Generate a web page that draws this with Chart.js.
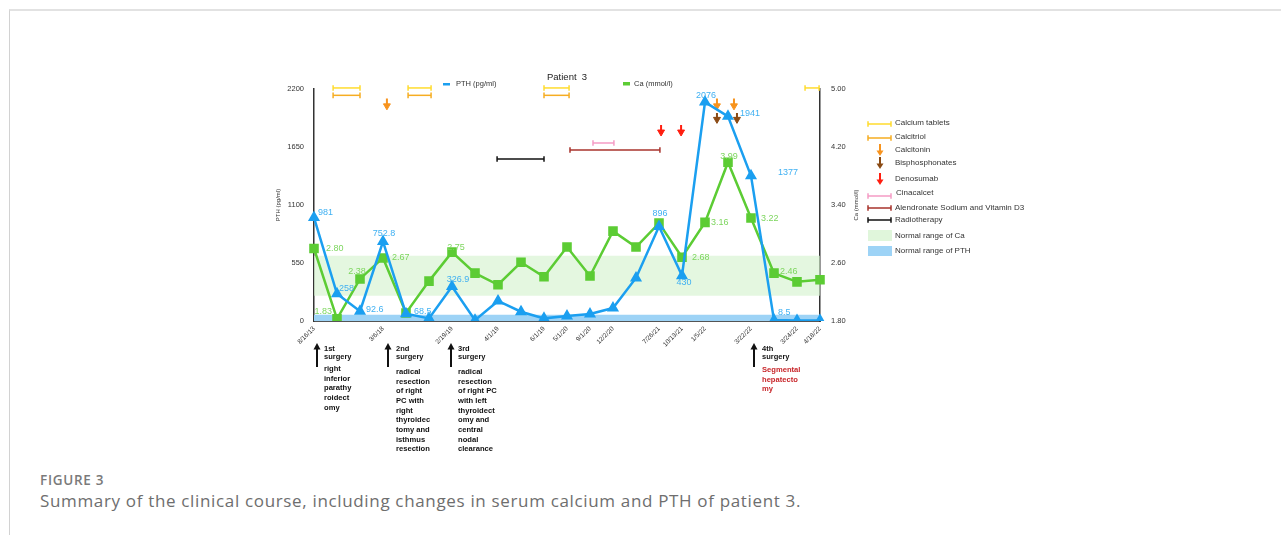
<!DOCTYPE html>
<html><head><meta charset="utf-8">
<script src="https://cdn.jsdelivr.net/npm/chart.js@4/dist/chart.umd.min.js"></script>
<style>
html,body{margin:0;padding:0;background:#fff;width:1281px;height:535px;overflow:hidden;}
#frame{position:absolute;left:9px;top:9px;width:1272px;height:524px;border-top:2px solid #e2e2e2;border-left:1px solid #d2d2d2;}
#fig{position:absolute;left:40px;top:471px;font:600 13.5px 'Open Sans';color:#7a7a7a;letter-spacing:0.7px;}
#cap{position:absolute;left:40px;top:489px;font:400 17px 'Open Sans';color:#6e6e6e;white-space:nowrap;letter-spacing:0.66px;}
canvas{position:absolute;left:0;top:0;}
</style></head><body>
<div id="frame"></div>
<div id="fig">FIGURE 3</div>
<div id="cap">Summary of the clinical course, including changes in serum calcium and PTH of patient 3.</div>
<canvas id="c" width="1281" height="535"></canvas>
<script>
// ---------- data ----------
const categories = ['8/16/13','','','3/6/18','','','2/19/19','','4/1/19','','6/1/19','5/1/20','9/1/20','12/2/20','','7/26/21','10/13/21','1/5/22','','3/22/22','','3/24/22','4/18/22'];
const pthValues = [981, 258, 92.6, 752.8, 68.5, 25, 326.9, 8, 190, 88, 25, 47, 66, 123, 408, 896, 430, 2076, 1941, 1377, 8.5, 5, 5];
const caValues  = [2.80, 1.83, 2.38, 2.67, 1.91, 2.35, 2.75, 2.46, 2.30, 2.61, 2.41, 2.82, 2.42, 3.04, 2.82, 3.15, 2.68, 3.16, 3.99, 3.22, 2.46, 2.34, 2.37];
const pthTicks = [0, 550, 1100, 1650, 2200];
const caTicks  = [1.80, 2.60, 3.40, 4.20, 5.00];
const pthLabelIdx = [0,1,2,3,4,6,15,16,17,18,19,20];
const caLabelIdx  = [0,1,2,3,6,16,17,18,19,20];
const caNormalRange  = [2.15, 2.70];
const pthNormalRange = [0, 60];
// treatments (x in category-index units)
const calciumTabletSpans = [[0.83,2.0],[4.09,5.09],[10.0,11.09],[21.35,21.96]];
const calcitriolSpans    = [[0.83,2.0],[4.09,5.09],[10.0,11.09]];
const cinacalcetSpans    = [[12.13,13.04]];
const alendronateSpans   = [[11.13,15.04]];
const radiotherapySpans  = [[7.96,10.0]];
const calcitoninDoses    = [3.17, 17.52, 18.26];
const bisphosphonateDoses= [17.52, 18.39];
const denosumabDoses     = [15.09, 15.96];
const surgeries = [
  {idx:0,  head:['1st','surgery'], lines:['right','inferior','parathy','roidect','omy']},
  {idx:3,  head:['2nd','surgery'], lines:['radical','resection','of right','PC with','right','thyroidec','tomy and','isthmus','resection']},
  {idx:6,  head:['3rd','surgery'], lines:['radical','resection','of right PC','with left','thyroidect','omy and','central','nodal','clearance']},
  {idx:19, head:['4th','surgery'], lines:['Segmental','hepatecto','my']}
];
const legendItems = ['Calcium tablets','Calcitriol','Calcitonin','Bisphosphonates','Denosumab','Cinacalcet','Alendronate Sodium and Vitamin D3','Radiotherapy','Normal range of Ca','Normal range of PTH'];

// ---------- styles ----------
const C = {
  pth:'#1b9ff0', pthLbl:'#3fb0f2', ca:'#5ccc34', caLbl:'#7dd65e',
  yellow:'#ffdc2e', orange:'#f6ad22', calcitonin:'#f7931e', brown:'#8a4a14', red:'#ff1e10',
  pink:'#f59cc5', darkred:'#a8332c', black:'#111', caBand:'rgba(214,243,207,0.65)', pthBand:'#9dd3f6'
};
const levels = {yellow:2210, orange:2140, radio:1536, alend:1622, cina:1688,
  calcitonin:[2110,2040], brown:[1972,1912], red:[1859,1792]};
const pthLblPos = {0:['left',4,-5],1:['left',2,-5],2:['left',6,-2],3:['center',1,-8],4:['left',8,-2],6:['center',6,-7],15:['center',1,-13],16:['center',2,7],17:['center',1,-7],18:['left',12,-3],19:['left',27,-3],20:['left',4,-8]};
const caLblPos = {0:['left',12,0],1:['right',-5,-7],2:['center',-3,-7],3:['left',9,0],6:['center',4,-5],16:['left',10,0],17:['left',6,0],18:['center',1,-6],19:['left',10,0],20:['left',6,-2]};
const surgPos = {0:[3,10,369],3:[5,13,372],6:[-1,6,372],19:[3,11,370]};

function spanSets(spans, level, color){
  return spans.map(([a,b]) => ({type:'line', xAxisID:'xt', yAxisID:'y', data:[{x:a,y:level},{x:b,y:level}],
    borderColor:color, borderWidth:1.5, pointStyle:'line', pointRotation:90, pointRadius:2.8,
    pointBorderColor:color, pointBorderWidth:1.5, clip:false, order:5}));
}
function arrowSets(xs, lv, color){
  return xs.map(x => ({type:'line', xAxisID:'xt', yAxisID:'y', data:[{x:x,y:lv[0]},{x:x,y:lv[1]}],
    borderColor:color, borderWidth:2, pointStyle:'triangle', pointRotation:180, pointRadius:[0,4],
    pointBackgroundColor:color, pointBorderColor:color, pointBorderWidth:1, clip:false, order:5}));
}

const datasets = [
  {type:'line', label:'PTH (pg/ml)', data:pthValues, xAxisID:'x', yAxisID:'y', borderColor:C.pth, backgroundColor:C.pth,
   borderWidth:2.5, pointStyle:'triangle', pointRadius:4.5, pointBackgroundColor:C.pth, pointBorderColor:C.pth, tension:0, order:1},
  {type:'line', label:'Ca (mmol/l)', data:caValues, xAxisID:'x', yAxisID:'y1', borderColor:C.ca, backgroundColor:C.ca,
   borderWidth:2.5, pointStyle:'rect', pointRadius:5, pointBackgroundColor:C.ca, pointBorderColor:C.ca, tension:0, order:2},
  ...spanSets(calciumTabletSpans, levels.yellow, C.yellow),
  ...spanSets(calcitriolSpans, levels.orange, C.orange),
  ...spanSets(cinacalcetSpans, levels.cina, C.pink),
  ...spanSets(alendronateSpans, levels.alend, C.darkred),
  ...spanSets(radiotherapySpans, levels.radio, C.black),
  ...arrowSets(calcitoninDoses, levels.calcitonin, C.calcitonin),
  ...arrowSets(bisphosphonateDoses, levels.brown, C.brown),
  ...arrowSets(denosumabDoses, levels.red, C.red),
];
datasets.push(
  {type:'line', xAxisID:'xt', yAxisID:'y1', data:[{x:0,y:caNormalRange[0]},{x:categories.length-1,y:caNormalRange[0]}], borderColor:'transparent', pointRadius:0, fill:false, order:20},
  {type:'line', xAxisID:'xt', yAxisID:'y1', data:[{x:0,y:caNormalRange[1]},{x:categories.length-1,y:caNormalRange[1]}], borderColor:'transparent', pointRadius:0, fill:'-1', backgroundColor:C.caBand, order:20},
  {type:'line', xAxisID:'xt', yAxisID:'y', data:[{x:0,y:pthNormalRange[1]},{x:categories.length-1,y:pthNormalRange[1]}], borderColor:'transparent', pointRadius:0, fill:{value:pthNormalRange[0]}, backgroundColor:C.pthBand, order:21}
);

const FONT = "'Liberation Sans', Arial, sans-serif";
function txt(ctx, s, x, y, size, color, align, weight){
  ctx.font = (weight||'normal') + ' ' + size + 'px ' + FONT;
  ctx.fillStyle = color; ctx.textAlign = align||'left'; ctx.textBaseline = 'middle';
  ctx.fillText(s, x, y);
}
function hbar(ctx, x1, x2, y, color){
  ctx.strokeStyle = color; ctx.lineWidth = 1.5;
  ctx.beginPath(); ctx.moveTo(x1,y); ctx.lineTo(x2,y);
  ctx.moveTo(x1,y-2.8); ctx.lineTo(x1,y+2.8); ctx.moveTo(x2,y-2.8); ctx.lineTo(x2,y+2.8); ctx.stroke();
}
function arrowDown(ctx, x, y1, y2, color){
  ctx.strokeStyle = color; ctx.fillStyle = color; ctx.lineWidth = 2;
  ctx.beginPath(); ctx.moveTo(x,y1); ctx.lineTo(x,y2-4); ctx.stroke();
  ctx.beginPath(); ctx.moveTo(x-3.5,y2-5.5); ctx.lineTo(x+3.5,y2-5.5); ctx.lineTo(x,y2); ctx.closePath(); ctx.fill();
}
function arrowUp(ctx, x, yTip, yBot, color){
  ctx.strokeStyle = color; ctx.fillStyle = color; ctx.lineWidth = 2;
  ctx.beginPath(); ctx.moveTo(x,yBot); ctx.lineTo(x,yTip+5); ctx.stroke();
  ctx.beginPath(); ctx.moveTo(x-3.5,yTip+6.5); ctx.lineTo(x+3.5,yTip+6.5); ctx.lineTo(x,yTip); ctx.closePath(); ctx.fill();
}

const deco = {
  id:'deco',
  afterDraw(chart){
    const ctx = chart.ctx, xs = chart.scales.x, ys = chart.scales.y, y1 = chart.scales.y1, ca = chart.chartArea;
    ctx.save();
    // data labels
    pthLabelIdx.forEach(i => { const p = pthLblPos[i];
      txt(ctx, String(pthValues[i]), xs.getPixelForValue(i)+p[1], ys.getPixelForValue(pthValues[i])+p[2], 9, C.pthLbl, p[0]); });
    caLabelIdx.forEach(i => { const p = caLblPos[i];
      txt(ctx, caValues[i].toFixed(2), xs.getPixelForValue(i)+p[1], y1.getPixelForValue(caValues[i])+p[2], 9, C.caLbl, p[0]); });
    // axis titles
    const my = (ca.top+ca.bottom)/2;
    ctx.save(); ctx.translate(278, my); ctx.rotate(-Math.PI/2); txt(ctx,'PTH (pg/ml)',0,0,6,'#333','center'); ctx.restore();
    ctx.save(); ctx.translate(856, my); ctx.rotate(-Math.PI/2); txt(ctx,'Ca (mmol/l)',0,0,6,'#333','center'); ctx.restore();
    // title + top legend
    txt(ctx, 'Patient  3', 547, 77, 9.5, '#222', 'left');
    ctx.fillStyle = C.pth; ctx.fillRect(443, 83, 7, 2.5);
    txt(ctx, 'PTH (pg/ml)', 456, 84, 7.5, '#333', 'left');
    ctx.fillStyle = C.ca; ctx.fillRect(623, 82, 7, 3.5);
    txt(ctx, 'Ca (mmol/l)', 634, 84, 7.5, '#333', 'left');
    // right legend
    const lx = 868, tx = 895;
    hbar(ctx, lx, 891, 124, C.yellow); txt(ctx, legendItems[0], tx, 123, 8, '#333');
    hbar(ctx, lx, 891, 138, C.orange); txt(ctx, legendItems[1], tx, 137, 8, '#333');
    arrowDown(ctx, 880, 144, 156, C.calcitonin); txt(ctx, legendItems[2], tx, 150, 8, '#333');
    arrowDown(ctx, 880, 157, 169, C.brown); txt(ctx, legendItems[3], tx, 163, 8, '#333');
    arrowDown(ctx, 880, 173, 185, C.red); txt(ctx, legendItems[4], tx, 179, 8, '#333');
    hbar(ctx, lx, 891, 196, C.pink); txt(ctx, legendItems[5], tx+1, 193, 8, '#333');
    hbar(ctx, lx, 891, 208, C.darkred); txt(ctx, legendItems[6], tx, 208, 8, '#333');
    hbar(ctx, lx, 891, 220, C.black); txt(ctx, legendItems[7], tx, 220, 8, '#333');
    ctx.fillStyle = 'rgba(214,243,207,0.75)'; ctx.fillRect(868, 230, 24, 11); txt(ctx, legendItems[8], tx, 236, 8, '#333');
    ctx.fillStyle = C.pthBand; ctx.fillRect(868, 246, 24, 10); txt(ctx, legendItems[9], tx, 251, 8, '#333');
    // surgeries
    surgeries.forEach(s => {
      const px = xs.getPixelForValue(s.idx), p = surgPos[s.idx];
      arrowUp(ctx, px+p[0], 343, 367, '#111');
      txt(ctx, s.head[0], px+p[1], 349, 7.5, '#111', 'left', 'bold');
      txt(ctx, s.head[1], px+p[1], 356.5, 7.5, '#111', 'left', 'bold');
      const col = s.idx === 19 ? '#c8262a' : '#111';
      s.lines.forEach((l,k) => txt(ctx, l, px+p[1], p[2]+k*9.65, 7.6, col, 'left', 'bold'));
    });
    ctx.restore();
  }
};

new Chart(document.getElementById('c'), {
  type:'line',
  data:{labels:categories, datasets:datasets},
  options:{
    responsive:false, animation:false, devicePixelRatio:1,
    layout:{padding:{left:260, right:401, top:89, bottom:174}},
    plugins:{legend:{display:false}, tooltip:{enabled:false}, title:{display:false}},
    scales:{
      x:{type:'category', position:'bottom', offset:false, grid:{display:false, drawTicks:false},
         border:{display:true, color:'#555', width:1},
         ticks:{autoSkip:false, minRotation:45, maxRotation:45, padding:4, color:'#333', font:{size:6.5, family:FONT}},
         afterFit(s){ s.height = 40; }},
      xt:{type:'linear', display:false, min:0, max:categories.length-1},
      y:{type:'linear', position:'left', min:0, max:2200, grid:{display:false, drawTicks:false},
         border:{display:true, color:'#333', width:1.5},
         afterBuildTicks(s){ s.ticks = pthTicks.map(v=>({value:v})); },
         ticks:{padding:10, color:'#333', font:{size:7.5, family:FONT}, callback:v=>String(v)},
         afterFit(s){ s.width = 54; }},
      y1:{type:'linear', position:'right', min:1.8, max:5.0, grid:{display:false, drawTicks:false},
         border:{display:true, color:'#333', width:1.5},
         afterBuildTicks(s){ s.ticks = caTicks.map(v=>({value:v})); },
         ticks:{padding:11, color:'#333', font:{size:7.5, family:FONT}, callback:v=>Number(v).toFixed(2)},
         afterFit(s){ s.width = 60; }}
    }
  },
  plugins:[deco]
});
</script>
</body></html>
